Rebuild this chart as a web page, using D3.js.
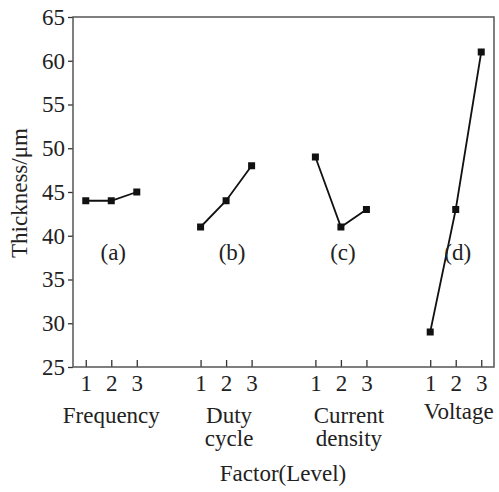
<!DOCTYPE html>
<html lang="en">
  <head>
    <meta charset="UTF-8" />
    <title>Thickness vs factor level</title>
    <script src="https://cdn.jsdelivr.net/npm/d3@7"></script>
    <style>
      body {
        padding: 0;
        margin: 0;
        background: #fff;
      }
      svg text {
        font-family: "Liberation Serif", "Times New Roman", serif;
        fill: #222;
      }
    </style>
  </head>
  <body>
    <div id="chart"></div>

    <script>
      // values
      const factors = ["Frequency", "Duty cycle", "Current density", "Voltage"];
      const factorLines = [["Frequency"], ["Duty", "cycle"], ["Current", "density"], ["Voltage"]];
      const panelTags = ["(a)", "(b)", "(c)", "(d)"];
      const levels = [1, 2, 3];
      const frequency = [44, 44, 45];
      const dutyCycle = [41, 44, 48];
      const currentDensity = [49, 41, 43];
      const voltage = [29, 43, 61];
      const yTicks = [25, 30, 35, 40, 45, 50, 55, 60, 65];

      const series = [frequency, dutyCycle, currentDensity, voltage];
      const groupStart = [1, 5.5, 10, 14.5]; // x slot of level 1 for each factor

      const width = 499,
        height = 492;
      const margin = { top: 17, right: 5, bottom: 125, left: 73 };

      const svg = d3
        .select("#chart")
        .append("svg")
        .attr("width", width)
        .attr("height", height);

      const x = d3
        .scaleLinear()
        .domain([0.5, 17])
        .range([margin.left, width - margin.right]);
      const y = d3
        .scaleLinear()
        .domain([25, 65])
        .range([height - margin.bottom, margin.top]);

      const axisColor = "#333";

      // y axis, ticks outside
      const yAxis = svg
        .append("g")
        .attr("transform", `translate(${margin.left},0)`)
        .call(d3.axisLeft(y).tickValues(yTicks).tickSize(5).tickPadding(3));
      yAxis.select(".domain").remove();
      yAxis.selectAll("line").attr("stroke", axisColor).attr("stroke-width", 1.3);
      yAxis.selectAll("text").style("font-size", "23px").attr("fill", "#222");

      // x axis, ticks pointing inward
      const xPos = [];
      series.forEach((s, i) => levels.forEach((l) => xPos.push(groupStart[i] + l - 1)));
      const xAxis = svg
        .append("g")
        .attr("transform", `translate(0,${y(25)})`)
        .call(
          d3
            .axisBottom(x)
            .tickValues(xPos)
            .tickSizeInner(-7)
            .tickSizeOuter(0)
            .tickPadding(8)
            .tickFormat((d, i) => levels[i % 3])
        );
      xAxis.select(".domain").remove();
      xAxis.selectAll("line").attr("stroke", axisColor).attr("stroke-width", 1.3);
      xAxis.selectAll("text").style("font-size", "23px").attr("fill", "#222");

      // frame
      svg
        .append("rect")
        .attr("x", x(0.5))
        .attr("y", y(65))
        .attr("width", x(17) - x(0.5))
        .attr("height", y(25) - y(65))
        .attr("fill", "none")
        .attr("stroke", "#555")
        .attr("stroke-width", 1.5);

      const line = d3
        .line()
        .x((d) => x(d.pos))
        .y((d) => y(d.value));

      series.forEach((s, i) => {
        const pts = s.map((v, j) => ({ pos: groupStart[i] + j, value: v }));
        svg
          .append("path")
          .datum(pts)
          .attr("d", line)
          .attr("fill", "none")
          .attr("stroke", "#111")
          .attr("stroke-width", 1.8);
        svg
          .selectAll(null)
          .data(pts)
          .enter()
          .append("rect")
          .attr("x", (d) => x(d.pos) - 3.5)
          .attr("y", (d) => y(d.value) - 3.5)
          .attr("width", 7)
          .attr("height", 7)
          .attr("fill", "#111");

        // panel tag
        svg
          .append("text")
          .attr("x", x(groupStart[i] + 1) + (i === 1 ? 6 : 2))
          .attr("y", y(37.2))
          .attr("text-anchor", "middle")
          .style("font-size", "23px")
          .text(panelTags[i]);

        // factor name under the levels
        const lines = factorLines[i];
        const t = svg
          .append("text")
          .attr("x", x(groupStart[i] + 1) + (i === 2 ? 8 : i === 1 ? 3 : i === 3 ? 3 : 0))
          .attr("y", i === 3 ? 419 : 423)
          .attr("text-anchor", "middle")
          .style("font-size", "23px");
        lines.forEach((ln, k) => {
          t.append("tspan")
            .attr("x", t.attr("x"))
            .attr("dy", k === 0 ? 0 : 23)
            .text(ln);
        });
      });

      // axis titles
      svg
        .append("text")
        .attr("transform", `translate(27,193) rotate(-90)`)
        .attr("text-anchor", "middle")
        .style("font-size", "23px")
        .text("Thickness/μm");

      svg
        .append("text")
        .attr("x", 283)
        .attr("y", 481)
        .attr("text-anchor", "middle")
        .style("font-size", "23px")
        .text("Factor(Level)");
    </script>
  </body>
</html>
